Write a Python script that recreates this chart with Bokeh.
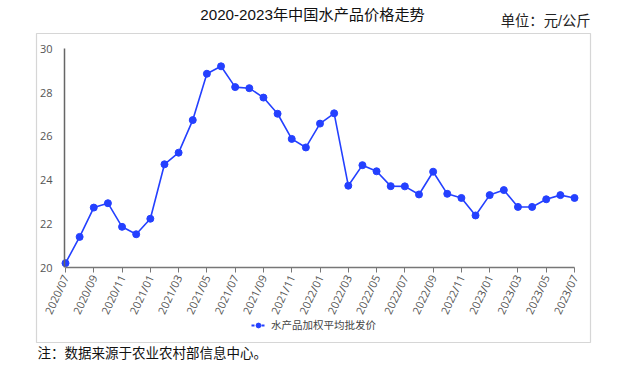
from bokeh.plotting import figure
from bokeh.models import Range1d, FixedTicker, Label, Legend, LegendItem, ColumnDataSource
from bokeh.embed import file_html
from bokeh.resources import INLINE

months = ["2020/07", "2020/08", "2020/09", "2020/10", "2020/11", "2020/12",
          "2021/01", "2021/02", "2021/03", "2021/04", "2021/05", "2021/06",
          "2021/07", "2021/08", "2021/09", "2021/10", "2021/11", "2021/12",
          "2022/01", "2022/02", "2022/03", "2022/04", "2022/05", "2022/06",
          "2022/07", "2022/08", "2022/09", "2022/10", "2022/11", "2022/12",
          "2023/01", "2023/02", "2023/03", "2023/04", "2023/05", "2023/06",
          "2023/07"]
prices = [20.2, 21.4, 22.74, 22.94, 21.86, 21.52, 22.23, 24.72, 25.25, 26.74,
          28.86, 29.2, 28.25, 28.2, 27.77, 27.03, 25.88, 25.49, 26.58, 27.05,
          23.74, 24.68, 24.4, 23.72, 23.71, 23.34, 24.38, 23.37, 23.18, 22.38,
          23.31, 23.54, 22.77, 22.77, 23.12, 23.31, 23.18]
y_ticks = [20, 22, 24, 26, 28, 30]
series_name = "水产品加权平均批发价"
title_text = "2020-2023年中国水产品价格走势"
unit_text = "单位：元/公斤"
note_text = "注：数据来源于农业农村部信息中心。"

BLUE = "#2440ff"
CJK = "Noto Sans CJK SC"
SANS_CJK = "'Liberation Sans', 'Noto Sans CJK SC'"
SERIF_CJK = "'Liberation Serif', 'Noto Sans CJK SC'"

idx = list(range(len(months)))
src = ColumnDataSource(dict(x=idx, y=prices, m=months))

# the plot frame is the light grey box; the axes sit inside it at fixed locations
p = figure(width=620, height=364, output_backend="svg", toolbar_location=None,
           x_range=Range1d(-2.051, 37.13), y_range=Range1d(16.571, 30.70),
           min_border_left=36, min_border_right=30, min_border_top=33, min_border_bottom=22,
           background_fill_color="white", border_fill_color="white",
           outline_line_color="#d6d6d6", outline_line_width=1.2)
p.xgrid.visible = False
p.ygrid.visible = False

ln = p.line("x", "y", source=src, line_color=BLUE, line_width=1.6)
sc = p.scatter("x", "y", source=src, size=7, fill_color=BLUE, line_color=BLUE)
# dashed line used only as the legend's sample (no visible data)
nan = float("nan")
leg_line = p.line(x=[nan, nan], y=[nan, nan], line_color=BLUE, line_width=2, line_dash="3 2")

xa = p.xaxis[0]
xa.fixed_location = 20
xa.ticker = FixedTicker(ticks=idx[::2])
xa.major_label_overrides = {i: months[i] for i in idx}
xa.major_label_orientation = 1.13
xa.bounds = (0, len(months) - 1)
xa.axis_line_color = "#777777"
xa.axis_line_width = 1.5
xa.major_tick_line_color = "#777777"
xa.major_tick_out = 5
xa.major_tick_in = 0
xa.minor_tick_line_color = None
xa.major_label_text_font = "Open Sans"
xa.major_label_text_font_size = "11px"
xa.major_label_text_color = "#555555"
xa.major_label_standoff = 3

ya = p.yaxis[0]
ya.fixed_location = -0.07
ya.ticker = FixedTicker(ticks=y_ticks)
ya.bounds = (20, 30)
ya.axis_line_color = "#666666"
ya.axis_line_width = 1.5
ya.major_tick_line_color = None
ya.minor_tick_line_color = None
ya.major_label_text_font = "Open Sans"
ya.major_label_text_font_size = "11px"
ya.major_label_text_color = "#555555"
ya.major_label_standoff = 6

legend = Legend(items=[LegendItem(label=series_name, renderers=[leg_line, sc])],
                location=(215, 10), orientation="horizontal",
                border_line_color=None, background_fill_alpha=0,
                padding=0, margin=0, glyph_width=14, glyph_height=12,
                label_standoff=6, label_height=14,
                label_text_font=CJK, label_text_font_size="10.5px", label_text_color="#444444")
p.add_layout(legend, "center")

p.add_layout(Label(x=276, y=19, x_units="screen", y_units="screen", text=title_text,
                   text_align="center", text_baseline="middle",
                   text_font=SANS_CJK, text_font_size="15.2px", text_color="#111111"), "above")
p.add_layout(Label(x=554, y=-4, x_units="screen", y_units="screen", text=unit_text,
                   text_align="right", text_baseline="middle",
                   text_font=SANS_CJK, text_font_size="14.3px", text_color="#222222"), "above")
p.add_layout(Label(x=1, y=4, x_units="screen", y_units="screen", text=note_text,
                   text_align="left", text_baseline="middle",
                   text_font=SERIF_CJK, text_font_size="13.5px", text_color="#111111"), "below")

open("out.html", "w").write(file_html(p, INLINE))
